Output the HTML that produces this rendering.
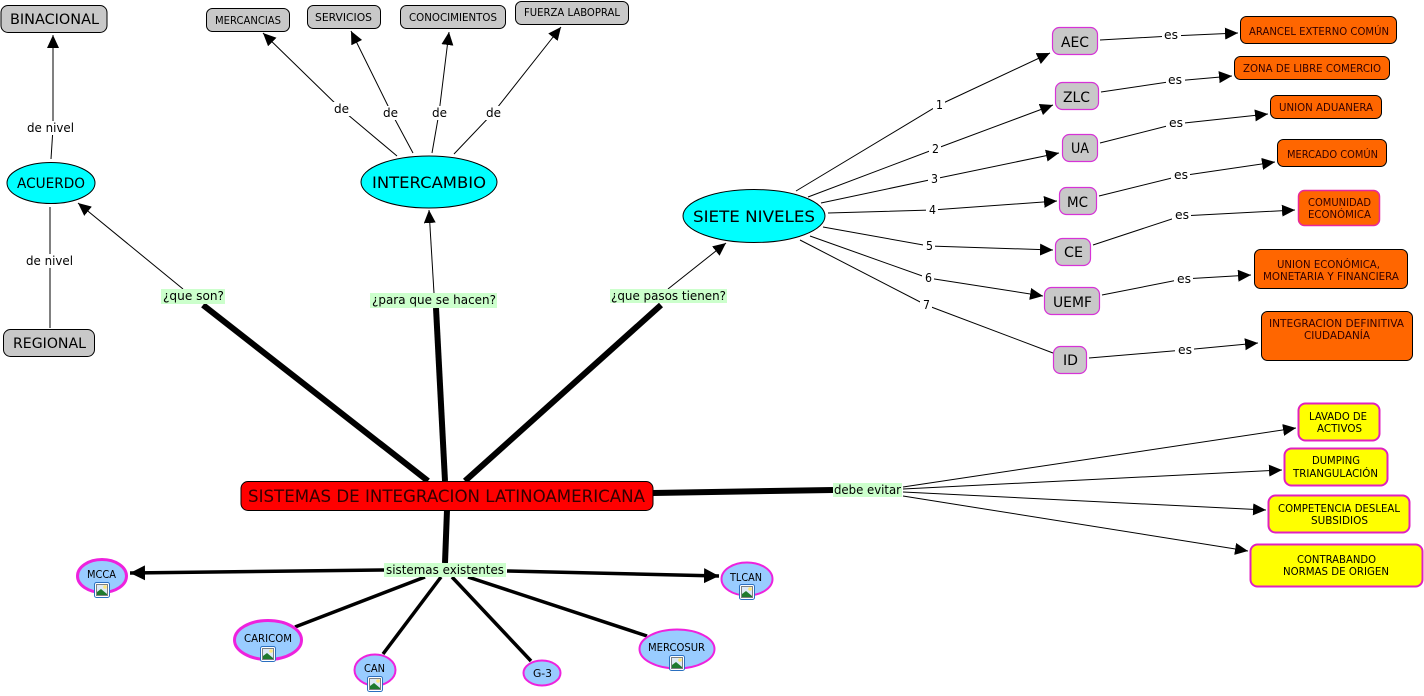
<!DOCTYPE html>
<html><head><meta charset="utf-8"><style>
html,body{margin:0;padding:0;background:#fff}
svg{display:block}
text{font-family:"DejaVu Sans","Liberation Sans",sans-serif;fill:#000;text-anchor:start}
.l{fill:none;stroke:#000;stroke-width:1}
.k{fill:none;stroke:#000;stroke-width:3.5}
.h{fill:none;stroke:#000;stroke-width:6}
.g{fill:#c8c8c8;stroke:#000;stroke-width:1}
.p{fill:#c8c8c8;stroke:#d633d6;stroke-width:1.2}
.o{fill:#ff6600;stroke:#000;stroke-width:1}
.y{fill:#ffff00;stroke:#e020c0;stroke-width:2}
.b{fill:#99ccff;stroke:#ee22dd}
.c{fill:#00ffff;stroke:#000;stroke-width:1}
.w{fill:#fff}
.m{fill:#ccffcc}
</style></head><body>
<svg width="1424" height="696" viewBox="0 0 1424 696" xmlns="http://www.w3.org/2000/svg">
<defs>
<marker id="a" markerUnits="userSpaceOnUse" markerWidth="15" markerHeight="13" refX="13" refY="6" orient="auto"><path d="M0 0L13 6L0 12Z" fill="#000"/></marker>
<marker id="A" markerUnits="userSpaceOnUse" markerWidth="17" markerHeight="17" refX="15" refY="7.500" orient="auto"><path d="M0 0L15 7.500L0 15Z" fill="#000"/></marker>
<symbol id="i" viewBox="0 0 16 16"><rect x=".5" y=".5" width="15" height="15" rx="2" fill="#fff" stroke="#2a6fc0"/><rect x="2.5" y="2.5" width="11" height="11" fill="#dfeaf5" stroke="#333" stroke-width=".6"/><circle cx="11" cy="5" r="1.8" fill="#ffe97a"/><path d="M3 13L3 10L7 7L13 12L13 13Z" fill="#1f7a2e"/></symbol>
</defs>

<!-- thick -->
<path class="h" d="M428 481L203 305"/>
<path class="h" d="M445 481L436 308"/>
<path class="h" d="M465 481L661 305"/>
<path class="h" d="M653 493L833 490"/>
<path class="h" d="M447 510L445 563"/>

<!-- label to node -->
<path class="l" d="M183 289L78 203" marker-end="url(#a)"/>
<path class="l" d="M434 293L429 210" marker-end="url(#a)"/>
<path class="l" d="M668 289L726 243" marker-end="url(#a)"/>

<path class="k" d="M384 570L130 573" marker-end="url(#A)"/>
<path class="k" d="M507 571L719 576" marker-end="url(#A)"/>
<path class="k" d="M295 627L425 577"/>
<path class="k" d="M383 654L441 577"/>
<path class="k" d="M452 577L531 661"/>
<path class="k" d="M468 577L647 636"/>

<path class="l" d="M903 487L1296 428" marker-end="url(#a)"/>
<path class="l" d="M903 489L1282 470" marker-end="url(#a)"/>
<path class="l" d="M903 492L1266 510" marker-end="url(#a)"/>
<path class="l" d="M903 496L1248 551" marker-end="url(#a)"/>

<path class="l" d="M51 159L53 128L53 35" marker-end="url(#a)"/>
<path class="l" d="M50 207L50 260L50 328"/>

<path class="l" d="M397 156L341 109L263 33" marker-end="url(#a)"/>
<path class="l" d="M413 153L391 112L351 31" marker-end="url(#a)"/>
<path class="l" d="M432 153L439 113L449 32" marker-end="url(#a)"/>
<path class="l" d="M454 154L493 113L561 27" marker-end="url(#a)"/>

<path class="l" d="M796 191L939 105L1050 53" marker-end="url(#a)"/>
<path class="l" d="M808 197L935 149L1053 105" marker-end="url(#a)"/>
<path class="l" d="M821 203L934 179L1059 153" marker-end="url(#a)"/>
<path class="l" d="M828 213L932 210L1057 201" marker-end="url(#a)"/>
<path class="l" d="M823 227L929 246L1053 250" marker-end="url(#a)"/>
<path class="l" d="M810 236L928 278L1043 296" marker-end="url(#a)"/>
<path class="l" d="M800 240L926 305L1053 353"/>

<path class="l" d="M1100 40L1171 36L1238 33" marker-end="url(#a)"/>
<path class="l" d="M1101 92L1175 81L1232 76" marker-end="url(#a)"/>
<path class="l" d="M1100 143L1175 124L1268 114" marker-end="url(#a)"/>
<path class="l" d="M1099 196L1180 176L1275 162" marker-end="url(#a)"/>
<path class="l" d="M1093 245L1181 216L1295 210" marker-end="url(#a)"/>
<path class="l" d="M1102 295L1183 279L1251 275" marker-end="url(#a)"/>
<path class="l" d="M1089 358L1184 350L1258 343" marker-end="url(#a)"/>

<!-- white label backs -->
<rect class="w" x="25" y="121" width="51" height="14"/>
<rect class="w" x="24" y="254" width="51" height="14"/>
<rect class="w" x="332" y="102" width="19" height="14"/>
<rect class="w" x="381" y="106" width="19" height="14"/>
<rect class="w" x="430" y="106" width="19" height="14"/>
<rect class="w" x="484" y="106" width="19" height="14"/>
<rect class="w" x="933" y="98" width="12" height="14"/>
<rect class="w" x="929" y="142" width="12" height="14"/>
<rect class="w" x="928" y="172" width="12" height="14"/>
<rect class="w" x="926" y="203" width="12" height="14"/>
<rect class="w" x="923" y="239" width="12" height="14"/>
<rect class="w" x="922" y="271" width="12" height="14"/>
<rect class="w" x="920" y="298" width="12" height="14"/>
<rect class="w" x="1162" y="28" width="19" height="14"/>
<rect class="w" x="1166" y="73" width="19" height="14"/>
<rect class="w" x="1166" y="116" width="19" height="14"/>
<rect class="w" x="1171" y="168" width="19" height="14"/>
<rect class="w" x="1172" y="208" width="19" height="14"/>
<rect class="w" x="1174" y="271" width="19" height="14"/>
<rect class="w" x="1175" y="342" width="19" height="14"/>

<!-- green labels -->
<rect class="m" x="161" y="289" width="64" height="15"/>
<rect class="m" x="370" y="293" width="127" height="15"/>
<rect class="m" x="610" y="289" width="117" height="14"/>
<rect class="m" x="833" y="483" width="69" height="14"/>
<rect class="m" x="384" y="563" width="122" height="14"/>
<text x="163" y="300" font-size="12" textLength="61" lengthAdjust="spacingAndGlyphs">¿que son?</text>
<text x="372" y="304" font-size="12" textLength="124" lengthAdjust="spacingAndGlyphs">¿para que se hacen?</text>
<text x="611" y="300" font-size="12" textLength="115" lengthAdjust="spacingAndGlyphs">¿que pasos tienen?</text>
<text x="834" y="494" font-size="12" textLength="67" lengthAdjust="spacingAndGlyphs">debe evitar</text>
<text x="386" y="574" font-size="12" textLength="118" lengthAdjust="spacingAndGlyphs">sistemas existentes</text>

<!-- link text -->
<text x="27" y="132" font-size="12" textLength="47" lengthAdjust="spacingAndGlyphs">de nivel</text>
<text x="26" y="265" font-size="12" textLength="47" lengthAdjust="spacingAndGlyphs">de nivel</text>
<text x="334" y="113" font-size="12" textLength="15" lengthAdjust="spacingAndGlyphs">de</text>
<text x="383" y="117" font-size="12" textLength="15" lengthAdjust="spacingAndGlyphs">de</text>
<text x="432" y="117" font-size="12" textLength="15" lengthAdjust="spacingAndGlyphs">de</text>
<text x="486" y="117" font-size="12" textLength="15" lengthAdjust="spacingAndGlyphs">de</text>
<text x="936" y="109" font-size="12" textLength="7" lengthAdjust="spacingAndGlyphs">1</text>
<text x="932" y="153" font-size="12" textLength="7" lengthAdjust="spacingAndGlyphs">2</text>
<text x="931" y="183" font-size="12" textLength="7" lengthAdjust="spacingAndGlyphs">3</text>
<text x="929" y="214" font-size="12" textLength="7" lengthAdjust="spacingAndGlyphs">4</text>
<text x="926" y="250" font-size="12" textLength="7" lengthAdjust="spacingAndGlyphs">5</text>
<text x="925" y="282" font-size="12" textLength="7" lengthAdjust="spacingAndGlyphs">6</text>
<text x="923" y="309" font-size="12" textLength="7" lengthAdjust="spacingAndGlyphs">7</text>
<text x="1164" y="39" font-size="12" textLength="14" lengthAdjust="spacingAndGlyphs">es</text>
<text x="1168" y="84" font-size="12" textLength="14" lengthAdjust="spacingAndGlyphs">es</text>
<text x="1169" y="127" font-size="12" textLength="14" lengthAdjust="spacingAndGlyphs">es</text>
<text x="1174" y="179" font-size="12" textLength="14" lengthAdjust="spacingAndGlyphs">es</text>
<text x="1175" y="219" font-size="12" textLength="14" lengthAdjust="spacingAndGlyphs">es</text>
<text x="1177" y="283" font-size="12" textLength="14" lengthAdjust="spacingAndGlyphs">es</text>
<text x="1178" y="354" font-size="12" textLength="14" lengthAdjust="spacingAndGlyphs">es</text>

<!-- main -->
<rect x="241" y="481.500" width="412" height="29" rx="7" fill="#ff0000" stroke="#000"/>
<text x="248" y="502" font-size="17" style="fill:#300" textLength="397" lengthAdjust="spacingAndGlyphs">SISTEMAS DE INTEGRACION LATINOAMERICANA</text>

<!-- grey -->
<rect class="g" x="1" y="5.500" width="106" height="27" rx="7"/>
<text x="10" y="24" font-size="14" textLength="89" lengthAdjust="spacingAndGlyphs">BINACIONAL</text>
<rect class="g" x="3.500" y="329.500" width="91" height="27" rx="7"/>
<text x="13" y="348" font-size="14" textLength="73" lengthAdjust="spacingAndGlyphs">REGIONAL</text>
<rect class="g" x="206.500" y="8.500" width="83" height="23" rx="6"/>
<text x="215" y="24" font-size="11" textLength="66" lengthAdjust="spacingAndGlyphs">MERCANCIAS</text>
<rect class="g" x="307.500" y="5.500" width="73" height="23" rx="6"/>
<text x="315" y="21" font-size="11" textLength="57" lengthAdjust="spacingAndGlyphs">SERVICIOS</text>
<rect class="g" x="400.500" y="5.500" width="105" height="23" rx="6"/>
<text x="409" y="21" font-size="11" textLength="88" lengthAdjust="spacingAndGlyphs">CONOCIMIENTOS</text>
<rect class="g" x="515.500" y="1.500" width="113" height="23" rx="6"/>
<text x="524" y="16" font-size="11" textLength="96" lengthAdjust="spacingAndGlyphs">FUERZA LABOPRAL</text>

<!-- cyan -->
<ellipse class="c" cx="51" cy="183" rx="44" ry="20.500"/>
<text x="17" y="188" font-size="14" textLength="68" lengthAdjust="spacingAndGlyphs">ACUERDO</text>
<ellipse class="c" cx="429" cy="182" rx="68" ry="26"/>
<text x="372" y="188" font-size="16" textLength="114" lengthAdjust="spacingAndGlyphs">INTERCAMBIO</text>
<ellipse class="c" cx="754" cy="216" rx="71" ry="26.500"/>
<text x="693" y="222" font-size="16" textLength="122" lengthAdjust="spacingAndGlyphs">SIETE NIVELES</text>

<!-- pills -->
<rect class="p" x="1052.500" y="27.500" width="45" height="27" rx="7"/>
<text x="1061" y="47" font-size="14" textLength="28" lengthAdjust="spacingAndGlyphs">AEC</text>
<rect class="p" x="1055.500" y="82.500" width="43" height="27" rx="7"/>
<text x="1063" y="102" font-size="14" textLength="27" lengthAdjust="spacingAndGlyphs">ZLC</text>
<rect class="p" x="1062.500" y="134.500" width="35" height="27" rx="7"/>
<text x="1071" y="153" font-size="14" textLength="18" lengthAdjust="spacingAndGlyphs">UA</text>
<rect class="p" x="1059.500" y="187.500" width="37" height="27" rx="7"/>
<text x="1067" y="207" font-size="14" textLength="21" lengthAdjust="spacingAndGlyphs">MC</text>
<rect class="p" x="1055.500" y="238.500" width="35" height="27" rx="7"/>
<text x="1064" y="257" font-size="14" textLength="19" lengthAdjust="spacingAndGlyphs">CE</text>
<rect class="p" x="1044.500" y="287.500" width="55" height="27" rx="7"/>
<text x="1053" y="307" font-size="14" textLength="39" lengthAdjust="spacingAndGlyphs">UEMF</text>
<rect class="p" x="1053.500" y="346.500" width="33" height="27" rx="7"/>
<text x="1063" y="365" font-size="14" textLength="15" lengthAdjust="spacingAndGlyphs">ID</text>

<!-- orange -->
<rect class="o" x="1240.500" y="16.500" width="156" height="27" rx="6"/>
<text x="1249" y="35" font-size="11" style="fill:#300" textLength="140" lengthAdjust="spacingAndGlyphs">ARANCEL EXTERNO COMÚN</text>
<rect class="o" x="1234.500" y="56.500" width="155" height="23" rx="6"/>
<text x="1243" y="72" font-size="11" style="fill:#300" textLength="138" lengthAdjust="spacingAndGlyphs">ZONA DE LIBRE COMERCIO</text>
<rect class="o" x="1270.500" y="95.500" width="111" height="23" rx="6"/>
<text x="1279" y="111" font-size="11" style="fill:#300" textLength="94" lengthAdjust="spacingAndGlyphs">UNION ADUANERA</text>
<rect class="o" x="1277.500" y="139.500" width="109" height="27" rx="6"/>
<text x="1287" y="158" font-size="11" style="fill:#300" textLength="91" lengthAdjust="spacingAndGlyphs">MERCADO COMÚN</text>
<rect x="1298.500" y="190.500" width="81" height="35" rx="6" fill="#ff6600" stroke="#e8289a" stroke-width="1.500"/>
<text x="1308" y="206" font-size="11" style="fill:#300" textLength="63" lengthAdjust="spacingAndGlyphs">COMUNIDAD</text>
<text x="1308" y="218" font-size="11" style="fill:#300" textLength="63" lengthAdjust="spacingAndGlyphs">ECONÓMICA</text>
<rect class="o" x="1254.500" y="249.500" width="153" height="39" rx="6"/>
<text x="1277" y="268" font-size="11" style="fill:#300" textLength="103" lengthAdjust="spacingAndGlyphs">UNION ECONÓMICA,</text>
<text x="1263" y="280" font-size="11" style="fill:#300" textLength="136" lengthAdjust="spacingAndGlyphs">MONETARIA Y FINANCIERA</text>
<rect class="o" x="1261.500" y="311.500" width="151" height="49" rx="6"/>
<text x="1269" y="327" font-size="11" style="fill:#300" textLength="135" lengthAdjust="spacingAndGlyphs">INTEGRACION DEFINITIVA</text>
<text x="1304" y="339" font-size="11" style="fill:#300" textLength="66" lengthAdjust="spacingAndGlyphs">CIUDADANÍA</text>

<!-- yellow -->
<rect class="y" x="1298.500" y="403.500" width="81" height="37" rx="7"/>
<text x="1309" y="420" font-size="11" textLength="58" lengthAdjust="spacingAndGlyphs">LAVADO DE</text>
<text x="1317" y="432" font-size="11" textLength="45" lengthAdjust="spacingAndGlyphs">ACTIVOS</text>
<rect class="y" x="1284.500" y="448.500" width="103" height="37" rx="7"/>
<text x="1312" y="464" font-size="11" textLength="48" lengthAdjust="spacingAndGlyphs">DUMPING</text>
<text x="1293" y="477" font-size="11" textLength="85" lengthAdjust="spacingAndGlyphs">TRIANGULACIÓN</text>
<rect class="y" x="1268.500" y="495.500" width="141" height="37" rx="7"/>
<text x="1278" y="512" font-size="11" textLength="122" lengthAdjust="spacingAndGlyphs">COMPETENCIA DESLEAL</text>
<text x="1311" y="524" font-size="11" textLength="57" lengthAdjust="spacingAndGlyphs">SUBSIDIOS</text>
<rect class="y" x="1250.500" y="544.500" width="172" height="42" rx="7"/>
<text x="1297" y="563" font-size="11" textLength="79" lengthAdjust="spacingAndGlyphs">CONTRABANDO</text>
<text x="1283" y="575" font-size="11" textLength="106" lengthAdjust="spacingAndGlyphs">NORMAS DE ORIGEN</text>

<!-- blue -->
<ellipse class="b" stroke-width="3" cx="102" cy="576" rx="24.500" ry="16.500"/>
<text x="87" y="578" font-size="11" textLength="29" lengthAdjust="spacingAndGlyphs">MCCA</text>
<use href="#i" x="94" y="582" width="16" height="16"/>
<ellipse class="b" stroke-width="3" cx="268" cy="640" rx="33.500" ry="19.500"/>
<text x="244" y="642" font-size="11" textLength="48" lengthAdjust="spacingAndGlyphs">CARICOM</text>
<use href="#i" x="260" y="646" width="16" height="16"/>
<ellipse class="b" stroke-width="2" cx="375" cy="670" rx="20.500" ry="15.500"/>
<text x="364" y="672" font-size="11" textLength="21" lengthAdjust="spacingAndGlyphs">CAN</text>
<use href="#i" x="367" y="676" width="16" height="16"/>
<ellipse class="b" stroke-width="2" cx="542" cy="673" rx="18.500" ry="12.500"/>
<text x="533" y="677" font-size="11" textLength="19" lengthAdjust="spacingAndGlyphs">G-3</text>
<ellipse class="b" stroke-width="2" cx="677" cy="649" rx="37.500" ry="19.500"/>
<text x="648" y="651" font-size="11" textLength="57" lengthAdjust="spacingAndGlyphs">MERCOSUR</text>
<use href="#i" x="669" y="655" width="16" height="16"/>
<ellipse class="b" stroke-width="2" cx="747" cy="579" rx="25.500" ry="16.500"/>
<text x="730" y="581" font-size="11" textLength="32" lengthAdjust="spacingAndGlyphs">TLCAN</text>
<use href="#i" x="739" y="584" width="16" height="16"/>
</svg>
</body></html>
